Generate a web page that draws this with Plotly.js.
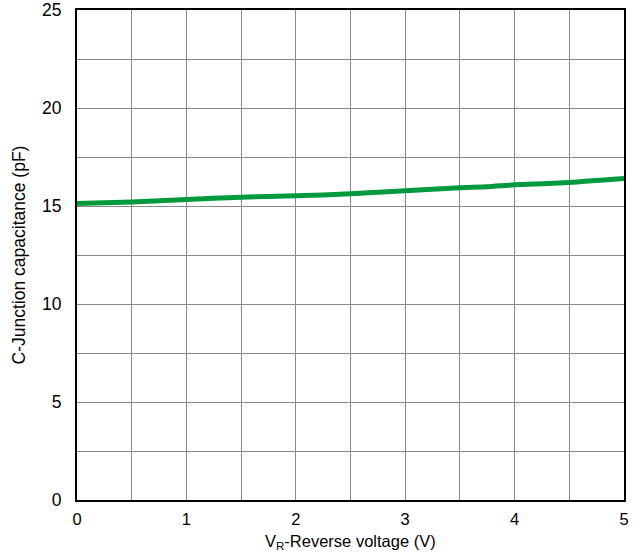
<!DOCTYPE html>
<html>
<head>
<meta charset="utf-8">
<script src="https://cdn.plot.ly/plotly-3.0.1.min.js"></script>
<style>html,body{margin:0;padding:0;background:#fff;}#chart{width:643px;height:555px;}</style>
</head>
<body>
<div id="chart"></div>
<script>
const voltage = [0, 0.5, 1, 1.5, 2, 2.5, 3, 3.5, 3.75, 4, 4.5, 5];
const capacitance = [15.13, 15.21, 15.33, 15.45, 15.52, 15.62, 15.78, 15.93, 15.98, 16.08, 16.2, 16.4];
const xTicks = [0, 1, 2, 3, 4, 5];
const yTicks = [0, 5, 10, 15, 20, 25];

const trace = {
  x: voltage, y: capacitance, type: 'scatter', mode: 'lines',
  line: {color: '#009a3e', width: 5, shape: 'spline', smoothing: 0.6},
  hoverinfo: 'skip'
};

const family = 'Liberation Sans, Arial, sans-serif';
const font = {family: family, size: 17.5, color: '#000'};
const xFont = {family: family, size: 16.5, color: '#000'};

const layout = {
  width: 643, height: 555,
  margin: {l: 77, r: 19, t: 10, b: 55},
  paper_bgcolor: '#fff', plot_bgcolor: '#fff',
  showlegend: false,
  font: font,
  xaxis: {
    range: [0, 5], tickvals: xTicks, ticktext: xTicks.map(String),
    showgrid: true, gridcolor: '#8a8a84', gridwidth: 1,
    minor: {dtick: 0.5, showgrid: true, gridcolor: '#8a8a84', gridwidth: 1},
    showline: true, linecolor: '#000', linewidth: 2, mirror: true,
    ticks: '', ticklabelstandoff: 3, zeroline: false,
    tickfont: xFont
  },
  yaxis: {
    range: [0, 25], tickvals: yTicks, ticktext: yTicks.map(String),
    showgrid: true, gridcolor: '#8a8a84', gridwidth: 1,
    minor: {dtick: 2.5, showgrid: true, gridcolor: '#8a8a84', gridwidth: 1},
    showline: true, linecolor: '#000', linewidth: 2, mirror: true,
    ticks: '', ticklabelstandoff: 10, zeroline: false,
    tickfont: font,
    title: {text: 'C-Junction capacitance (pF)', font: font, standoff: 12}
  },
  annotations: [{
    text: 'V<sub>R</sub>-Reverse voltage (V)', xref: 'paper', yref: 'paper',
    x: 0.5, y: -0.085, xanchor: 'center', yanchor: 'middle',
    showarrow: false, font: xFont
  }]
};

Plotly.newPlot('chart', [trace], layout, {displayModeBar: false, staticPlot: true});
</script>
</body>
</html>
